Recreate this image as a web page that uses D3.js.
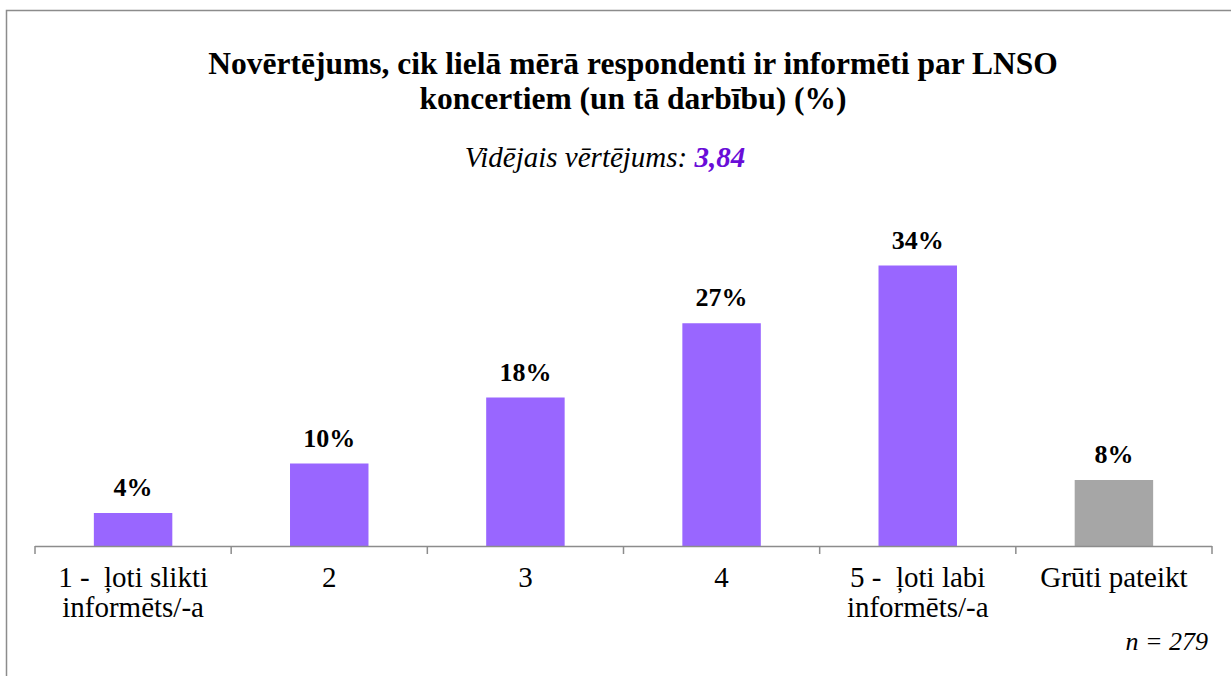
<!DOCTYPE html>
<html>
<head>
<meta charset="utf-8">
<script src="https://cdn.jsdelivr.net/npm/d3@7"></script>
</head>
<body style="margin:0">
<script>
var categories = [["1 -  ļoti slikti", "informēts/-a"], ["2"], ["3"], ["4"], ["5 -  ļoti labi", "informēts/-a"], ["Grūti pateikt"]];
var values = [4, 10, 18, 27, 34, 8];
var barColors = ["#9966FF", "#9966FF", "#9966FF", "#9966FF", "#9966FF", "#A6A6A6"];
var titleLines = ["Novērtējums, cik lielā mērā respondenti ir informēti par LNSO", "koncertiem (un tā darbību) (%)"];
var average = "3,84";
var sampleNote = "n = 279";

var width = 1231, height = 676;
var margin = { left: 35, right: 19, baseline: 546 };
var serif = "'Liberation Serif', serif";

var svg = d3.select("body").append("svg")
    .attr("width", width)
    .attr("height", height)
    .attr("font-family", serif);

// frame
svg.append("rect")
    .attr("x", 6.5).attr("y", 10.5)
    .attr("width", width).attr("height", height)
    .attr("fill", "none")
    .attr("stroke", "#8c8c8c")
    .attr("stroke-width", 1.5);

var x = d3.scaleBand()
    .domain(d3.range(values.length))
    .range([margin.left, width - margin.right])
    .paddingInner(0.6)
    .paddingOuter(0.3);

var y = d3.scaleLinear()
    .domain([0, 40])
    .range([margin.baseline, margin.baseline - 330]);

// title
svg.append("text")
    .attr("text-anchor", "middle")
    .attr("font-family", serif)
    .attr("font-size", 31.5).attr("font-weight", "bold")
    .selectAll("tspan")
    .data(titleLines)
    .enter().append("tspan")
    .attr("x", 633)
    .attr("y", function (d, i) { return 74 + i * 35; })
    .text(function (d) { return d; });

var sub = svg.append("text")
    .attr("x", 605).attr("y", 167)
    .attr("text-anchor", "middle")
    .attr("font-family", serif)
    .attr("font-size", 29).attr("font-style", "italic");
sub.append("tspan").text("Vidējais vērtējums: ");
sub.append("tspan").attr("fill", "#6A0DD8").attr("font-weight", "bold").text(average);

// bars
svg.selectAll(".bar")
    .data(values)
    .enter().append("rect")
    .attr("class", "bar")
    .attr("x", function (d, i) { return x(i); })
    .attr("y", function (d) { return y(d); })
    .attr("width", x.bandwidth())
    .attr("height", function (d) { return y(0) - y(d); })
    .attr("fill", function (d, i) { return barColors[i]; });

svg.selectAll(".val")
    .data(values)
    .enter().append("text")
    .attr("class", "val")
    .attr("x", function (d, i) { return x(i) + x.bandwidth() / 2; })
    .attr("y", function (d) { return y(d) - 17; })
    .attr("text-anchor", "middle")
    .attr("font-family", serif)
    .attr("font-size", 26).attr("font-weight", "bold")
    .text(function (d) { return d + "%"; });

// axis
var step = (width - margin.right - margin.left) / values.length;
var axis = svg.append("g");
axis.append("line")
    .attr("x1", margin.left).attr("x2", width - margin.right)
    .attr("y1", margin.baseline + 0.5).attr("y2", margin.baseline + 0.5)
    .attr("stroke", "#8c8c8c").attr("stroke-width", 1.5);
axis.selectAll(".tick")
    .data(d3.range(values.length + 1))
    .enter().append("line")
    .attr("x1", function (d) { return margin.left + d * step; })
    .attr("x2", function (d) { return margin.left + d * step; })
    .attr("y1", margin.baseline).attr("y2", margin.baseline + 8)
    .attr("stroke", "#8c8c8c").attr("stroke-width", 1.5);

axis.selectAll(".lab")
    .data(categories)
    .enter().append("text")
    .attr("class", "lab")
    .attr("text-anchor", "middle")
    .attr("font-family", serif)
    .attr("font-size", 29)
    .style("white-space", "pre")
    .each(function (d, i) {
        var cx = x(i) + x.bandwidth() / 2;
        d3.select(this).selectAll("tspan")
            .data(d)
            .enter().append("tspan")
            .attr("x", cx)
            .attr("y", function (t, j) { return 587 + j * 30; })
            .text(function (t) { return t; });
    });

svg.append("text")
    .attr("x", 1208).attr("y", 650)
    .attr("text-anchor", "end")
    .attr("font-family", serif)
    .attr("font-size", 26).attr("font-style", "italic")
    .text(sampleNote);
</script>
</body>
</html>
